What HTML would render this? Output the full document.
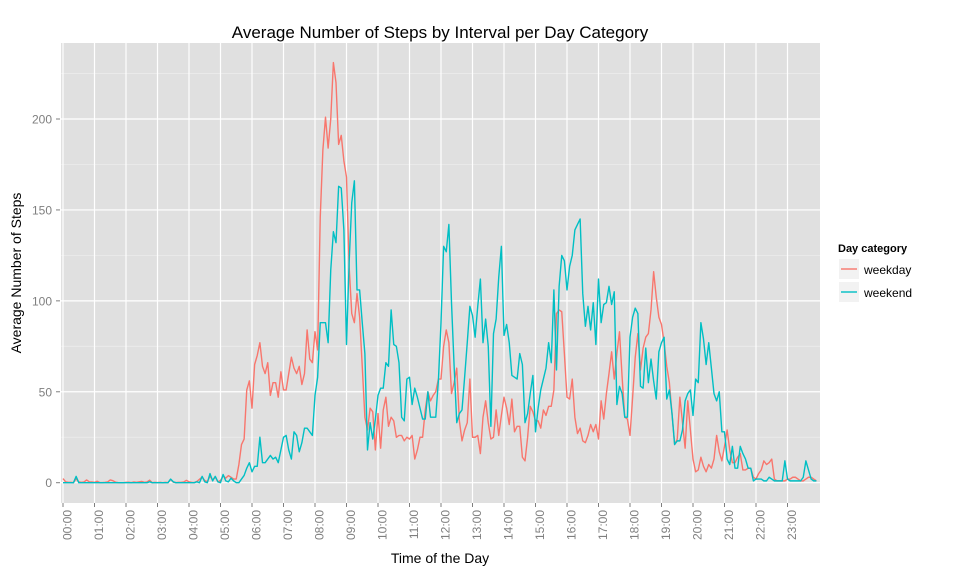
<!DOCTYPE html>
<html><head><meta charset="utf-8"><style>
html,body{margin:0;padding:0;background:#fff;}
svg{display:block;font-family:"Liberation Sans",Arial,sans-serif;}
</style></head><body>
<svg id="chart" width="960" height="576" viewBox="0 0 960 576" xmlns="http://www.w3.org/2000/svg">
<text x="440" y="38" font-size="17" text-anchor="middle" fill="#000">Average Number of Steps by Interval per Day Category</text>
<rect x="61" y="43" width="759" height="460" fill="#e0e0e0"/>
<g id="grid"></g>
<g id="axes"></g>
<g id="series"></g>
<text x="440" y="563" font-size="14" text-anchor="middle" fill="#000">Time of the Day</text>
<text transform="translate(21,273) rotate(-90)" font-size="14" text-anchor="middle" fill="#000">Average Number of Steps</text>
<g>
<text x="838" y="252" font-size="11" font-weight="bold" fill="#000">Day category</text>
<rect x="839" y="259" width="20" height="20" fill="#f2f2f2"/>
<line x1="841" y1="269" x2="857" y2="269" stroke="#F8766D" stroke-width="1.4"/>
<text x="864" y="274" font-size="12" fill="#000">weekday</text>
<rect x="839" y="282" width="20" height="20" fill="#f2f2f2"/>
<line x1="841" y1="292" x2="857" y2="292" stroke="#00BFC4" stroke-width="1.4"/>
<text x="864" y="297" font-size="12" fill="#000">weekend</text>
</g>
</svg>
<script>
const hourLabels = ["00:00","01:00","02:00","03:00","04:00","05:00","06:00","07:00","08:00","09:00","10:00","11:00","12:00","13:00","14:00","15:00","16:00","17:00","18:00","19:00","20:00","21:00","22:00","23:00"];
const yTicks = [0,50,100,150,200];
const weekday = [2.3,0.5,0.2,0.2,0.1,2.1,0.5,0.2,0.4,1.5,0.5,0.4,0.2,0.8,0.1,0.1,0.2,0.4,1.5,1.1,0.3,0.1,0,0,0.2,0.3,0.1,0.4,0.2,0.5,0.7,0.2,0.4,1.4,0,0.2,0.1,0.2,0,0.2,0.1,1.8,0.3,0.1,0.2,0.2,0.4,1.3,0.5,0.2,0.1,0.7,1.9,3.1,1.2,0.6,3.6,1.5,3.2,0.5,1.2,3.8,2.5,3.9,
3,2,2,10,21,24,51,56,41,65,70,77,64,60,66,48,55,55,47,61,51,51,60,69,63,60,64,54,60,84,68,66,83,73,
146,183,201,184,200,231,220,186,191,177,168,119,93,88,104,91,64,36,29,41,39,18,38,19,40,47,31,36,34,25,26,26,23,25,24,26,13,18,
25,25,40,50,45,48,50,57,57,75,84,77,49,55,63,34,23,29,33,57,25,25,26,16,36,45,33,24,25,40,26,37,47,41,32,46,28,31,31,14,12,25,42,39,34,34,30,40,37,
42,42,51,93,95,94,71,47,46,57,36,27,30,23,22,26,32,28,32,24,45,35,49,60,72,57,71,83,58,36,35,26,47,69,82,62,74,80,82,95,116,102,91,87,77,64,55,38,21,24,
47,33,19,45,29,13,6,7,14,9,6,10,8,13,26,17,12,20,29,18,11,11,14,16,7,7,8,8,3,2,5,7,12,10,11,13,2,1,1,1,1,2,2,3,3,2,1,1,2,3,3,2,1];
const weekend = [0,0,0,0,0,3.5,0,0,0,0,0,0,
0,0,0,0,0,0,0,0,0,0,0,0,
0,0,0,0,0,0,0,0,0,0.5,0,0,
0,0,0,0,0,2,0.5,0,0,0,0,0,
0,0,0,0.5,0,3.5,0.5,0,5,1,3.5,0.5,
0,4.5,1,0.5,2.5,1,0,0,2,4,8,11,
6,9,9,25,11,11,13,15,13,14,11,18,
25,26,18,13,28,26,17,22,30,30,28,26,
48,58,88,88,88,77,117,138,132,163,162,139,
76,121,154,166,106,106,88,71,18,33,24,35,
48,52,52,66,64,95,76,75,66,36,34,57,
58,43,52,47,41,35,35,50,36,36,36,56,
88,130,127,142,99,64,33,38,40,58,77,97,
92,80,97,112,77,90,75,31,82,90,113,130,
81,87,77,59,58,57,71,65,33,38,49,59,
28,41,51,57,63,77,66,106,62,108,125,122,
106,119,125,139,142,145,104,86,97,84,99,76,
112,88,98,99,108,98,105,43,53,49,36,36,
80,91,96,93,53,52,74,55,68,56,46,72,
77,80,46,51,38,21,23,23,29,45,49,51,
37,57,55,88,79,65,77,63,49,45,50,28,
28,13,10,20,8,8,20,16,13,8,8,1,
2,2,2,1,1,3,2,1,1,1,1,12,
2,1,1,1,1,1,3,12,7,2,1,1];

const NS = "http://www.w3.org/2000/svg";
const px0 = 63, pxPerHour = 31.5;
const yZero = 482.7, pxPerUnit = 1.8185;
const xScale = i => px0 + i * pxPerHour / 12;
const xHour = h => px0 + h * pxPerHour;
const yScale = v => yZero - v * pxPerUnit;
function mk(tag, attrs, parent) {
  const el = document.createElementNS(NS, tag);
  for (const k in attrs) el.setAttribute(k, attrs[k]);
  parent.appendChild(el);
  return el;
}
const grid = document.getElementById('grid');
const axes = document.getElementById('axes');
const series = document.getElementById('series');
for (let k = 0; k < yTicks.length; k++) {
  const v = yTicks[k] + 25;
  const l = mk('line', {x1: 61, x2: 820, y1: yScale(v), y2: yScale(v), stroke: '#ececec', 'stroke-width': 0.8}, grid);
  
  
}
yTicks.forEach(v => {
  const y = yScale(v);
  const l = mk('line', {x1: 61, x2: 820, y1: y, y2: y, stroke: '#fff', 'stroke-width': 1.2}, grid);
  
  
  const t = mk('line', {x1: 56, x2: 60, y1: y, y2: y, stroke: '#7f7f7f', 'stroke-width': 1}, axes);
  
  
  const tx = mk('text', {x: 52, y: y + 4.5, 'font-size': 12, 'text-anchor': 'end', fill: '#7f7f7f'}, axes);
  tx.textContent = v;
  
  
});
hourLabels.forEach((lab, h) => {
  const x = xHour(h);
  const l = mk('line', {x1: x, x2: x, y1: 43, y2: 503, stroke: '#fff', 'stroke-width': 1.2}, grid);
  
  
  const t = mk('line', {x1: x, x2: x, y1: 503, y2: 507, stroke: '#7f7f7f', 'stroke-width': 1}, axes);
  
  
  const tx = mk('text', {transform: 'translate(' + (x + 8.5) + ',510) rotate(-90)', 'font-size': 12, 'text-anchor': 'end', fill: '#7f7f7f'}, axes);
  tx.textContent = lab;
  
  
});
function drawLine(arr, color, name) {
  const d = arr.map((v, i) => (i ? 'L' : 'M') + xScale(i).toFixed(2) + ',' + yScale(v).toFixed(2)).join('');
  const p = mk('path', {d: d, fill: 'none', stroke: color, 'stroke-width': 1.4, 'stroke-linejoin': 'round'}, series);
  
  
}
drawLine(weekday, '#F8766D', 'weekday-line');
drawLine(weekend, '#00BFC4', 'weekend-line');
</script>
</body></html>
